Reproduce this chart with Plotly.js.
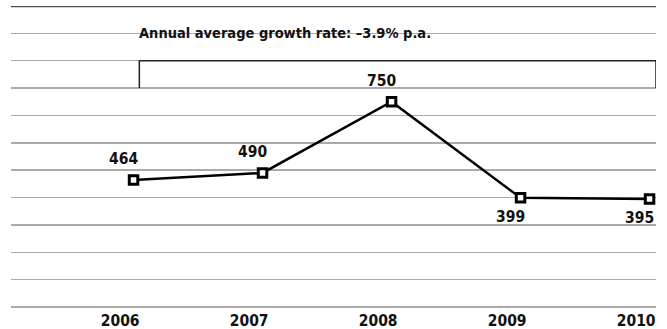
<!DOCTYPE html>
<html>
<head>
<meta charset="utf-8">
<script src="https://cdn.plot.ly/plotly-3.0.1.min.js"></script>
<style>
  html, body { margin: 0; padding: 0; background: #fff; }
  #chart { width: 667px; height: 329px; }
  #chart text { font-stretch: condensed; }
</style>
</head>
<body>
<div id="chart"></div>
<script>
// Annual values, 2006–2010
const years = ['2006', '2007', '2008', '2009', '2010'];
const values = [464, 490, 750, 399, 395];
// Which side of each point its value label sits on
const labelSide = ['above', 'above', 'above', 'below', 'below'];
const growthNote = 'Annual average growth rate: \u20133.9% p.a.';

const FONT = 'DejaVu Sans Condensed, DejaVu Sans, sans-serif';
const FS = 15.5;
const idx = years.map((_, i) => i);

const trace = {
  x: idx,
  y: values,
  type: 'scatter',
  mode: 'lines+markers',
  line: { color: '#000', width: 2.5 },
  marker: { symbol: 'square', size: 8.5, color: '#fff', line: { color: '#000', width: 3 } },
  cliponaxis: false,
  hoverinfo: 'skip'
};

// Value labels, right-aligned just past each marker
const valueLabels = values.map((v, i) => ({
  x: i, y: v, xref: 'x', yref: 'y',
  text: String(v),
  showarrow: false,
  xanchor: 'right', yanchor: 'middle',
  xshift: 6,
  yshift: labelSide[i] === 'above' ? 21 : -19,
  font: { family: FONT, size: FS, color: '#111', weight: 'bold' }
}));

const layout = {
  width: 667, height: 329,
  margin: { l: 11, r: 11, t: 6, b: 22 },
  paper_bgcolor: '#fff', plot_bgcolor: '#fff',
  showlegend: false,
  xaxis: {
    range: [-0.95, 4.05],
    showgrid: false, zeroline: false, showline: false,
    tickvals: idx, ticktext: years,
    ticks: '', ticklabelposition: 'outside left', ticklabelshift: 6, ticklabelstandoff: 2,
    tickfont: { family: FONT, size: FS, color: '#111', weight: 'bold' },
    automargin: false, fixedrange: true
  },
  yaxis: {
    range: [0, 1100], dtick: 100,
    showgrid: true, gridcolor: '#ababab', gridwidth: 1.5,
    zeroline: true, zerolinecolor: '#ababab', zerolinewidth: 1.5,
    showticklabels: false, ticks: '',
    automargin: false, fixedrange: true
  },
  shapes: [
    // heavy rule along the top of the chart
    { type: 'line', xref: 'paper', yref: 'y', x0: 0, x1: 1, y0: 1100, y1: 1100,
      line: { color: '#4d4d4d', width: 2.5 } },
    // bracket spanning the growth period
    { type: 'path', xref: 'x', yref: 'y',
      path: 'M 0.045,800 L 0.045,900 L 4.05,900 L 4.05,800',
      line: { color: '#222', width: 1.5 } }
  ],
  annotations: [
    { x: 0.045, y: 1000, xref: 'x', yref: 'y', text: growthNote, showarrow: false,
      xanchor: 'left', yanchor: 'middle', xshift: -2,
      font: { family: FONT, size: 14.5, color: '#111', weight: 'bold' } }
  ].concat(valueLabels)
};

Plotly.newPlot('chart', [trace], layout, { displayModeBar: false, staticPlot: true });
</script>
</body>
</html>
